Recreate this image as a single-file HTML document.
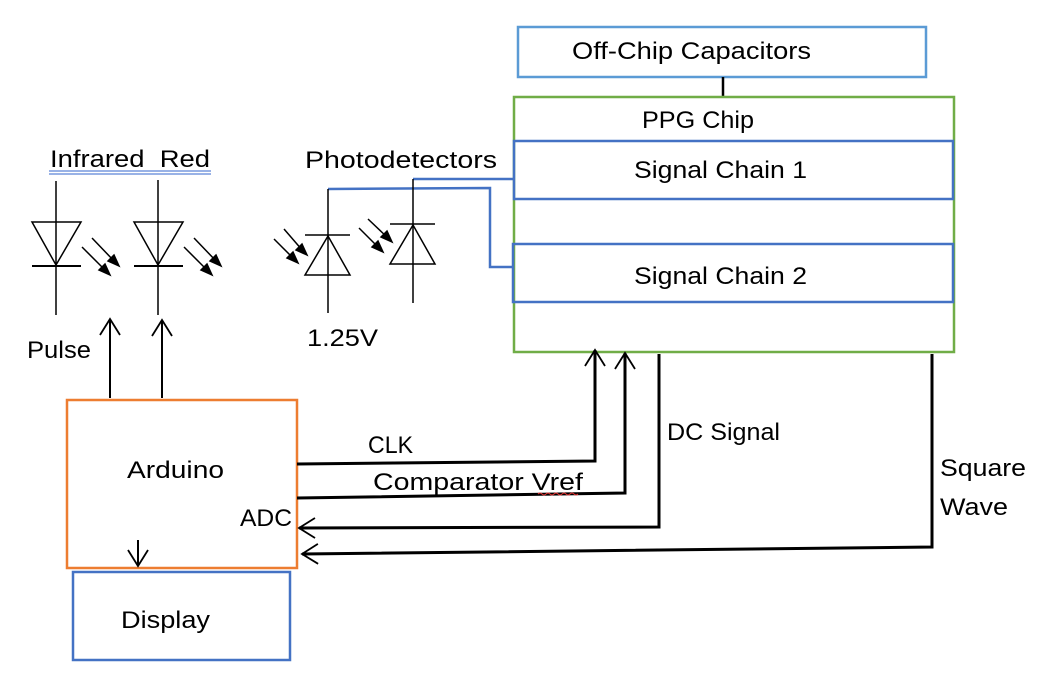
<!DOCTYPE html>
<html><head><meta charset="utf-8"><style>
html,body{margin:0;padding:0;background:#fff;}
svg{display:block;}
text{font-family:"Liberation Sans",sans-serif;font-size:24px;fill:#000;}
</style></head><body>
<svg width="1042" height="681" viewBox="0 0 1042 681" xmlns="http://www.w3.org/2000/svg">
<defs>
<marker id="ah" markerWidth="40" markerHeight="40" refX="0" refY="0" viewBox="-20 -20 40 40" orient="auto" markerUnits="userSpaceOnUse" overflow="visible">
<path d="M-16,-10 L0,0 L-16,10" fill="none" stroke="#000" stroke-width="1.8"/>
</marker>
</defs>
<!-- boxes -->
<rect x="518" y="27" width="408" height="50" fill="none" stroke="#5b9bd5" stroke-width="2.5"/>
<line x1="723" y1="77" x2="723" y2="96" stroke="#000" stroke-width="2.5"/>
<rect x="514" y="97" width="440" height="255" fill="none" stroke="#70ad47" stroke-width="2.5"/>
<rect x="514" y="141" width="439" height="58" fill="none" stroke="#4472c4" stroke-width="2.5"/>
<rect x="513" y="244" width="440" height="58" fill="none" stroke="#4472c4" stroke-width="2.5"/>
<text x="572" y="59" textLength="239" lengthAdjust="spacingAndGlyphs">Off-Chip Capacitors</text>
<text x="642" y="128" textLength="112" lengthAdjust="spacingAndGlyphs">PPG Chip</text>
<text x="634" y="178" textLength="173" lengthAdjust="spacingAndGlyphs">Signal Chain 1</text>
<text x="634" y="284" textLength="173" lengthAdjust="spacingAndGlyphs">Signal Chain 2</text>

<!-- blue wires -->
<polyline points="413,179 514,179" fill="none" stroke="#4472c4" stroke-width="2.5"/>
<polyline points="328,189 490,188 490,267 514,267" fill="none" stroke="#4472c4" stroke-width="2.5"/>

<!-- labels left -->
<text x="50" y="167" textLength="160" lengthAdjust="spacingAndGlyphs">Infrared&#160;&#160;Red</text>
<line x1="49" y1="171" x2="211" y2="171" stroke="#3366cc" stroke-width="1"/>
<line x1="49" y1="174" x2="211" y2="174" stroke="#3366cc" stroke-width="1"/>
<text x="305" y="168" textLength="192" lengthAdjust="spacingAndGlyphs">Photodetectors</text>
<text x="27" y="358" textLength="64" lengthAdjust="spacingAndGlyphs">Pulse</text>
<text x="307" y="346" textLength="71" lengthAdjust="spacingAndGlyphs">1.25V</text>

<!-- LEDs -->
<g stroke="#000" stroke-width="1.5" fill="none">
<line x1="56" y1="181" x2="56" y2="315"/>
<polygon points="32,222 81,222 56,265"/>
<line x1="32" y1="266" x2="81" y2="266" stroke-width="2"/>
<line x1="158" y1="180" x2="158" y2="315"/>
<polygon points="134,222 183,222 158,265"/>
<line x1="134" y1="266" x2="183" y2="266" stroke-width="2"/>
<line x1="328" y1="189" x2="328" y2="313"/>
<polygon points="305,275 350,275 328,236"/>
<line x1="305" y1="235" x2="350" y2="235"/>
<line x1="413" y1="179" x2="413" y2="303"/>
<polygon points="390,264 435,264 413,225"/>
<line x1="390" y1="224" x2="435" y2="224"/>
</g>
<g stroke="#000" stroke-width="1.5" fill="#000">
<line x1="82" y1="247" x2="106" y2="271"/><polygon points="110,275 99,270 105,264"/>
<line x1="92" y1="238" x2="115" y2="262"/><polygon points="119,266 108,261 114,255"/>
<line x1="184" y1="247" x2="208" y2="271"/><polygon points="212,275 201,270 207,264"/>
<line x1="194" y1="238" x2="217" y2="262"/><polygon points="221,266 210,261 216,255"/>
<line x1="274" y1="239" x2="294" y2="259"/><polygon points="298,263 287,258 293,252"/>
<line x1="284" y1="229" x2="303" y2="251"/><polygon points="307,255 296,250 302,244"/>
<line x1="359" y1="228" x2="379" y2="248"/><polygon points="383,252 372,247 378,241"/>
<line x1="368" y1="219" x2="388" y2="238"/><polygon points="392,242 381,237 387,231"/>
</g>

<!-- pulse arrows -->
<line x1="110" y1="398" x2="110" y2="319" stroke="#000" stroke-width="2" marker-end="url(#ah)"/>
<line x1="162" y1="398" x2="162" y2="320" stroke="#000" stroke-width="2" marker-end="url(#ah)"/>

<!-- Arduino & display -->
<rect x="67" y="400" width="230" height="168" fill="none" stroke="#ed7d31" stroke-width="2.5"/>
<text x="127" y="478" textLength="97" lengthAdjust="spacingAndGlyphs">Arduino</text>
<text x="240" y="526" textLength="52" lengthAdjust="spacingAndGlyphs">ADC</text>
<rect x="73" y="572" width="217" height="88" fill="none" stroke="#4472c4" stroke-width="2.5"/>
<text x="121" y="628" textLength="89" lengthAdjust="spacingAndGlyphs">Display</text>
<line x1="138" y1="540" x2="138" y2="566" stroke="#000" stroke-width="2" marker-end="url(#ah)"/>

<!-- signal wires -->
<polyline points="297,464 595,461 595,350" fill="none" stroke="#000" stroke-width="3" marker-end="url(#ah)"/>
<polyline points="297,498 625,493 625,353" fill="none" stroke="#000" stroke-width="3" marker-end="url(#ah)"/>
<polyline points="659,354 659,527 299,528" fill="none" stroke="#000" stroke-width="3" marker-end="url(#ah)"/>
<polyline points="932,354 932,547 302,554" fill="none" stroke="#000" stroke-width="3" marker-end="url(#ah)"/>
<text x="368" y="453" textLength="45" lengthAdjust="spacingAndGlyphs">CLK</text>
<text x="373" y="490" textLength="210" lengthAdjust="spacingAndGlyphs">Comparator Vref</text>
<path d="M538,494 q2,-2 4,0 t4,0 t4,0 t4,0 t4,0 t4,0 t4,0 t4,0 t4,0 t4,0" fill="none" stroke="#e03030" stroke-width="1"/>
<text x="667" y="440" textLength="113" lengthAdjust="spacingAndGlyphs">DC Signal</text>
<text x="940" y="476" textLength="86" lengthAdjust="spacingAndGlyphs">Square</text>
<text x="940" y="515" textLength="68" lengthAdjust="spacingAndGlyphs">Wave</text>
</svg>
</body></html>
